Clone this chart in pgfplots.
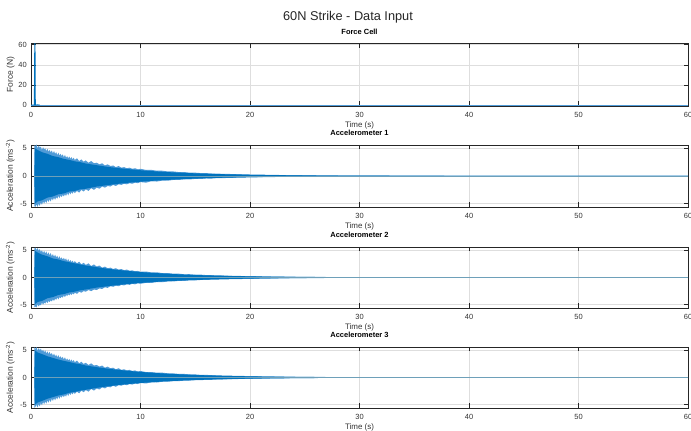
\documentclass[border=0pt]{standalone}
\usepackage{pgfplots}
\pgfplotsset{compat=1.18}
\usepackage{pgfplotstable}
\usepackage{fontspec}
\setmainfont{Liberation Sans}
\definecolor{matblue}{rgb}{0,0.447,0.741}
\definecolor{lightblue}{RGB}{80,155,215}
\definecolor{zerocol}{RGB}{110,160,185}
\definecolor{gridgray}{RGB}{222,222,222}

% Accelerometer 1: outer (jagged) envelope
\pgfplotstableread{
t u l
0.30 0 0
0.32 5.6 -5.5
0.40 5.4 -5.6
0.50 5.7 -5.1
0.60 5.0 -5.6
0.70 5.5 -5.0
0.80 5.1 -5.4
0.90 5.3 -4.8
1.00 4.7 -5.2
1.10 5.2 -4.6
1.20 4.8 -5.0
1.30 5.0 -4.5
1.40 4.5 -4.9
1.50 4.9 -4.3
1.60 4.4 -4.7
1.70 4.7 -4.2
1.80 4.3 -4.6
1.90 4.6 -4.0
2.00 4.1 -4.4
2.10 4.5 -3.9
2.20 4.0 -4.3
2.30 4.3 -3.8
2.40 3.8 -4.1
2.50 4.2 -3.6
2.60 3.7 -4.0
2.70 4.0 -3.5
2.80 3.6 -3.8
2.90 3.9 -3.4
3.00 3.4 -3.7
3.10 3.8 -3.3
3.20 3.3 -3.6
3.30 3.6 -3.1
3.40 3.2 -3.5
3.50 3.5 -3.0
3.60 3.1 -3.3
3.70 3.4 -2.9
3.80 3.0 -3.2
3.90 3.3 -2.8
4.00 2.9 -3.1
4.20 3.2 -2.7
4.40 2.7 -3.0
4.60 3.0 -2.5
4.80 2.6 -2.8
5.00 2.8 -2.4
5.25 2.4 -2.7
5.50 2.7 -2.2
5.75 2.3 -2.5
6.00 2.4 -2.1
6.25 2.1 -2.3
6.50 2.3 -1.9
6.75 1.9 -2.1
7.00 2.1 -1.8
7.25 1.8 -1.9
7.50 1.9 -1.6
7.75 1.6 -1.8
8.00 1.8 -1.5
8.25 1.5 -1.6
8.50 1.6 -1.4
8.75 1.4 -1.5
9.00 1.5 -1.3
9.25 1.3 -1.4
9.50 1.4 -1.2
9.75 1.2 -1.3
10.0 1.3 -1.1
10.5 1.1 -1.2
11.0 1.1 -0.95
11.5 0.95 -1.0
12.0 0.95 -0.82
12.5 0.82 -0.85
13.0 0.82 -0.70
13.5 0.70 -0.72
14.0 0.70 -0.60
14.5 0.60 -0.62
15.0 0.60 -0.52
15.5 0.52 -0.53
16.0 0.52 -0.45
16.5 0.45 -0.46
17.0 0.44 -0.38
17.5 0.38 -0.40
18.0 0.38 -0.33
18.5 0.33 -0.34
19.0 0.33 -0.29
20.0 0.27 -0.26
21.0 0.24 -0.21
22.0 0.20 -0.19
23.0 0.17 -0.16
24.0 0.15 -0.14
25.0 0.13 -0.12
27.0 0.10 -0.09
30.0 0.07 -0.07
35.0 0.05 -0.05
40.0 0.04 -0.04
50.0 0.03 -0.03
60.0 0.03 -0.03
}\accAout
\pgfplotstableread{
t u l
0.30 0 0
0.35 5.0 -5.0
0.6 4.7 -4.6
1.0 4.3 -4.4
1.5 4.0 -3.9
2.0 3.6 -3.7
2.5 3.4 -3.3
3.0 3.1 -3.15
3.5 2.9 -2.8
4.0 2.65 -2.7
4.5 2.5 -2.4
5.0 2.25 -2.3
6.0 1.95 -1.9
7.0 1.65 -1.65
8.0 1.42 -1.40
9.0 1.22 -1.2
10 1.04 -1.03
11 0.89 -0.88
12 0.76 -0.76
13 0.65 -0.65
14 0.56 -0.55
15 0.48 -0.47
16 0.41 -0.40
17 0.35 -0.34
18 0.30 -0.29
19 0.26 -0.25
20 0.22 -0.21
22 0.16 -0.16
24 0.12 -0.12
26 0.09 -0.09
30 0.05 -0.05
40 0.03 -0.03
60 0.03 -0.03
}\accAin

% Accelerometer 2
\pgfplotstableread{
t u l
0.30 0 0
0.32 5.4 -5.5
0.40 5.5 -5.3
0.50 5.0 -5.5
0.60 5.4 -4.9
0.70 4.9 -5.3
0.80 5.2 -5.0
0.90 4.7 -5.1
1.00 5.0 -4.6
1.10 4.5 -5.0
1.20 4.9 -4.6
1.30 4.4 -4.8
1.40 4.8 -4.4
1.50 4.2 -4.7
1.60 4.6 -4.3
1.70 4.1 -4.5
1.80 4.5 -4.2
1.90 3.9 -4.4
2.00 4.3 -4.0
2.10 3.8 -4.3
2.20 4.2 -3.9
2.30 3.7 -4.1
2.40 4.0 -3.7
2.50 3.5 -4.0
2.60 3.9 -3.6
2.70 3.4 -3.8
2.80 3.7 -3.5
2.90 3.3 -3.7
3.00 3.6 -3.3
3.10 3.2 -3.6
3.20 3.5 -3.2
3.30 3.0 -3.4
3.40 3.4 -3.1
3.50 2.9 -3.3
3.60 3.2 -3.0
3.70 2.8 -3.2
3.80 3.1 -2.9
3.90 2.7 -3.1
4.00 3.0 -2.8
4.20 2.6 -3.0
4.40 2.9 -2.6
4.60 2.4 -2.8
4.80 2.7 -2.5
5.00 2.3 -2.6
5.25 2.6 -2.3
5.50 2.1 -2.5
5.75 2.4 -2.2
6.00 2.0 -2.3
6.25 2.2 -2.0
6.50 1.8 -2.1
6.75 2.0 -1.8
7.00 1.7 -1.9
7.25 1.8 -1.6
7.50 1.55 -1.7
7.75 1.7 -1.5
8.00 1.45 -1.6
8.25 1.55 -1.35
8.50 1.35 -1.45
8.75 1.45 -1.25
9.00 1.25 -1.35
9.25 1.3 -1.15
9.50 1.15 -1.25
9.75 1.2 -1.05
10.0 1.05 -1.15
10.5 1.1 -0.98
11.0 0.92 -1.0
11.5 0.95 -0.84
12.0 0.80 -0.86
12.5 0.82 -0.72
13.0 0.69 -0.73
13.5 0.70 -0.61
14.0 0.59 -0.62
14.5 0.60 -0.52
15.0 0.51 -0.53
15.5 0.52 -0.45
16.0 0.44 -0.45
16.5 0.44 -0.38
17.0 0.37 -0.39
17.5 0.38 -0.33
18.0 0.32 -0.33
18.5 0.32 -0.28
19.0 0.28 -0.29
20.0 0.25 -0.24
21.0 0.21 -0.21
22.0 0.18 -0.18
23.0 0.16 -0.15
24.0 0.14 -0.13
25.0 0.12 -0.11
27.0 0.09 -0.09
30.0 0.07 -0.06
35.0 0.05 -0.05
40.0 0.04 -0.04
50.0 0.03 -0.03
60.0 0.03 -0.03
}\accBout
\pgfplotstableread{
t u l
0.30 0 0
0.35 4.9 -4.9
0.6 4.6 -4.5
1.0 4.2 -4.3
1.5 3.9 -3.8
2.0 3.5 -3.6
2.5 3.3 -3.2
3.0 3.0 -3.05
3.5 2.8 -2.75
4.0 2.6 -2.6
4.5 2.4 -2.35
5.0 2.2 -2.2
6.0 1.9 -1.85
7.0 1.6 -1.6
8.0 1.38 -1.36
9.0 1.18 -1.17
10 1.0 -1.0
11 0.86 -0.85
12 0.74 -0.73
13 0.63 -0.63
14 0.54 -0.53
15 0.46 -0.46
16 0.39 -0.39
17 0.34 -0.33
18 0.29 -0.28
19 0.25 -0.24
20 0.21 -0.21
22 0.16 -0.15
24 0.12 -0.11
26 0.09 -0.08
30 0.05 -0.05
40 0.03 -0.03
60 0.03 -0.03
}\accBin

% Accelerometer 3
\pgfplotstableread{
t u l
0.30 0 0
0.32 5.6 -5.6
0.40 5.2 -5.4
0.50 5.6 -5.0
0.60 4.9 -5.5
0.70 5.4 -4.9
0.80 5.0 -5.3
0.90 5.3 -4.7
1.00 4.8 -5.1
1.10 5.1 -4.5
1.20 4.6 -4.9
1.30 5.0 -4.4
1.40 4.4 -4.8
1.50 4.8 -4.2
1.60 4.3 -4.6
1.70 4.7 -4.1
1.80 4.2 -4.5
1.90 4.5 -3.9
2.00 4.0 -4.3
2.10 4.4 -3.8
2.20 3.9 -4.2
2.30 4.2 -3.7
2.40 3.7 -4.0
2.50 4.1 -3.5
2.60 3.6 -3.9
2.70 3.9 -3.4
2.80 3.5 -3.7
2.90 3.8 -3.3
3.00 3.3 -3.6
3.10 3.7 -3.2
3.20 3.2 -3.5
3.30 3.5 -3.0
3.40 3.1 -3.4
3.50 3.4 -2.9
3.60 3.0 -3.2
3.70 3.3 -2.8
3.80 2.9 -3.1
3.90 3.2 -2.7
4.00 2.8 -3.0
4.20 3.1 -2.6
4.40 2.6 -2.9
4.60 2.9 -2.4
4.80 2.5 -2.7
5.00 2.7 -2.3
5.25 2.3 -2.6
5.50 2.6 -2.1
5.75 2.2 -2.4
6.00 2.3 -2.0
6.25 2.0 -2.2
6.50 2.2 -1.8
6.75 1.8 -2.0
7.00 2.0 -1.7
7.25 1.7 -1.8
7.50 1.8 -1.5
7.75 1.5 -1.7
8.00 1.7 -1.4
8.25 1.4 -1.5
8.50 1.5 -1.3
8.75 1.3 -1.4
9.00 1.4 -1.2
9.25 1.2 -1.3
9.50 1.3 -1.1
9.75 1.1 -1.2
10.0 1.2 -1.0
10.5 1.0 -1.1
11.0 1.0 -0.88
11.5 0.88 -0.92
12.0 0.88 -0.76
12.5 0.76 -0.78
13.0 0.76 -0.65
13.5 0.65 -0.66
14.0 0.65 -0.56
14.5 0.56 -0.57
15.0 0.56 -0.48
15.5 0.48 -0.49
16.0 0.48 -0.42
16.5 0.42 -0.42
17.0 0.41 -0.36
17.5 0.36 -0.37
18.0 0.35 -0.31
18.5 0.31 -0.32
19.0 0.30 -0.27
20.0 0.25 -0.24
21.0 0.22 -0.20
22.0 0.19 -0.18
23.0 0.16 -0.15
24.0 0.14 -0.13
25.0 0.12 -0.11
27.0 0.09 -0.08
30.0 0.07 -0.06
35.0 0.05 -0.05
40.0 0.04 -0.04
50.0 0.03 -0.03
60.0 0.03 -0.03
}\accCout
\pgfplotstableread{
t u l
0.30 0 0
0.35 5.0 -5.0
0.6 4.6 -4.6
1.0 4.3 -4.3
1.5 3.9 -3.9
2.0 3.6 -3.6
2.5 3.3 -3.3
3.0 3.05 -3.1
3.5 2.85 -2.8
4.0 2.6 -2.65
4.5 2.45 -2.4
5.0 2.2 -2.25
6.0 1.9 -1.9
7.0 1.62 -1.62
8.0 1.4 -1.38
9.0 1.2 -1.18
10 1.02 -1.01
11 0.87 -0.87
12 0.75 -0.74
13 0.64 -0.64
14 0.55 -0.54
15 0.47 -0.46
16 0.40 -0.40
17 0.34 -0.34
18 0.29 -0.29
19 0.25 -0.25
20 0.21 -0.21
22 0.16 -0.16
24 0.12 -0.12
26 0.09 -0.09
30 0.05 -0.05
40 0.03 -0.03
60 0.03 -0.03
}\accCin

\pgfplotsset{
  base/.style={
    scale only axis, width=657bp, xmin=0, xmax=60, xtick={0,10,...,60},
    tick align=inside, major tick length=4.5bp,
    grid=major, major grid style={gridgray, line width=0.5bp},
    axis line style={black!85, line width=0.6bp},
    every tick/.style={black!85, line width=0.5bp},
    tick label style={font=\fontsize{7.5}{8}\selectfont, text=black!80},
    /pgf/number format/assume math mode=true,
    xticklabel style={inner sep=0pt, yshift=-6bp},
    yticklabel style={inner sep=0pt, xshift=-4bp},
    xlabel={Time (s)},
    xlabel style={font=\fontsize{8}{9}\selectfont, text=black!80, at={(axis description cs:0.5,0)}, anchor=north, inner sep=0pt, yshift=-16bp},
    ylabel style={font=\fontsize{8.5}{9}\selectfont, text=black!80, at={(axis description cs:-0.0245,0.5)}, anchor=south, inner sep=0pt},
    title style={font=\bfseries\fontsize{7.5}{8}\selectfont, at={(axis description cs:0.5,1)}, anchor=south, inner sep=0pt, yshift=3bp},
  },
  acc/.style={base, ymin=-5.6, ymax=5.6, ytick={-5,0,5},
    ylabel={Acceleration (ms\textsuperscript{-2})}},
}

\begin{document}
\begin{tikzpicture}
\useasboundingbox (0,0) rectangle (691bp,431bp);
\node[font=\fontsize{12.8}{14}\selectfont, text=black!85] at (348bp,414bp) {60N Strike - Data Input};

% Force cell
\begin{axis}[base, at={(31bp,325bp)}, anchor=south west, height=62.5bp,
  ymin=-0.6, ymax=61, ytick={0,20,40,60}, ylabel={Force (N)}, title={Force Cell}]
\addplot[lightblue, line width=0.8bp] coordinates {(0,0.3) (60,0.3)};
\addplot[matblue, line width=0.8bp] coordinates {(0,0.3) (0.30,0.3) (0.34,62) (0.37,62) (0.40,0.3) (0.6,0.6) (0.8,0.3)};
\end{axis}

% Accelerometer 1
\begin{axis}[acc, at={(31bp,224bp)}, anchor=south west, height=62bp, title={Accelerometer 1}]
\addplot[draw=none, fill=lightblue] table[x=t,y=u]{\accAout} \closedcycle;
\addplot[draw=none, fill=lightblue] table[x=t,y=l]{\accAout} \closedcycle;
\addplot[draw=none, fill=matblue] table[x=t,y=u]{\accAin} \closedcycle;
\addplot[draw=none, fill=matblue] table[x=t,y=l]{\accAin} \closedcycle;
\addplot[zerocol, line width=0.6bp] coordinates {(0.3,0) (60,0)};
\end{axis}

% Accelerometer 2
\begin{axis}[acc, at={(31bp,123bp)}, anchor=south west, height=61bp, title={Accelerometer 2}]
\addplot[draw=none, fill=lightblue] table[x=t,y=u]{\accBout} \closedcycle;
\addplot[draw=none, fill=lightblue] table[x=t,y=l]{\accBout} \closedcycle;
\addplot[draw=none, fill=matblue] table[x=t,y=u]{\accBin} \closedcycle;
\addplot[draw=none, fill=matblue] table[x=t,y=l]{\accBin} \closedcycle;
\addplot[zerocol, line width=0.6bp] coordinates {(0.3,0) (60,0)};
\end{axis}

% Accelerometer 3
\begin{axis}[acc, at={(31bp,23bp)}, anchor=south west, height=61bp, title={Accelerometer 3}]
\addplot[draw=none, fill=lightblue] table[x=t,y=u]{\accCout} \closedcycle;
\addplot[draw=none, fill=lightblue] table[x=t,y=l]{\accCout} \closedcycle;
\addplot[draw=none, fill=matblue] table[x=t,y=u]{\accCin} \closedcycle;
\addplot[draw=none, fill=matblue] table[x=t,y=l]{\accCin} \closedcycle;
\addplot[zerocol, line width=0.6bp] coordinates {(0.3,0) (60,0)};
\end{axis}
\end{tikzpicture}
\end{document}
